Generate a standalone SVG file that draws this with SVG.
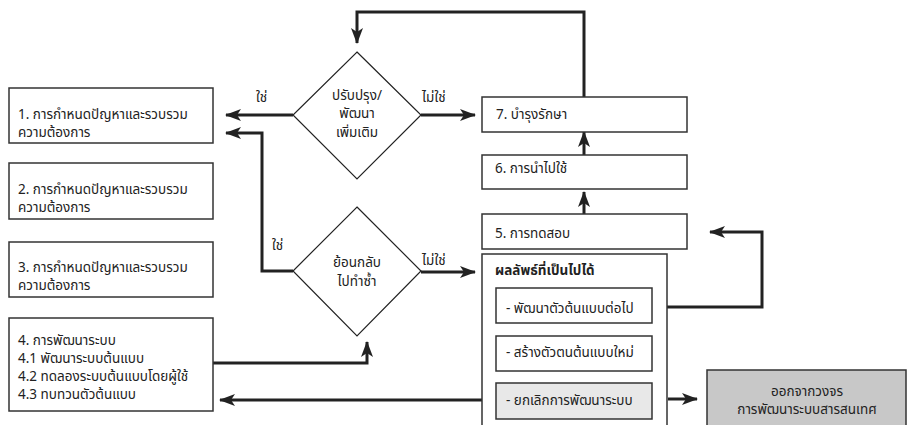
<svg xmlns="http://www.w3.org/2000/svg" width="909" height="425" viewBox="0 0 909 425">
<defs>
<style>
.box{fill:#fff;stroke:#333;stroke-width:1.5}
.dia{fill:#fff;stroke:#222;stroke-width:1.2}
.c{fill:none;stroke:#222;stroke-width:3}
text{font-family:"Noto Sans Thai","Noto Sans","Liberation Sans",sans-serif;font-size:13.5px;fill:#222}
.m{text-anchor:middle}
.b{font-weight:bold}
</style>
<marker id="ah" viewBox="0 0 16 12" refX="15" refY="6" markerWidth="16" markerHeight="12" markerUnits="userSpaceOnUse" orient="auto">
<path d="M0,0 L16,6 L0,12 L4,6 z" fill="#222"/>
</marker>
</defs>
<g id="connectors">
<path class="c" d="M584,97 V12 H357 V43" marker-end="url(#ah)"/>
<path class="c" d="M293,115 H226" marker-end="url(#ah)"/>
<path class="c" d="M421,115 H475" marker-end="url(#ah)"/>
<path class="c" d="M584,155 V132" marker-end="url(#ah)"/>
<path class="c" d="M584,214 V192" marker-end="url(#ah)"/>
<path class="c" d="M293,271 H262 V133 H226" marker-end="url(#ah)"/>
<path class="c" d="M421,272 H475" marker-end="url(#ah)"/>
<path class="c" d="M213,363 H367 V342" marker-end="url(#ah)"/>
<path class="c" d="M652,307 H762 V232 H710" marker-end="url(#ah)"/>
<path class="c" d="M482,400 H220" marker-end="url(#ah)"/>
<path class="c" d="M668,399 H697" marker-end="url(#ah)"/>
<text x="256" y="102">ใช่</text>
<text x="422" y="102">ไม่ใช่</text>
<text x="272" y="250">ใช่</text>
<text x="422" y="265">ไม่ใช่</text>
</g>
<g id="n1"><rect class="box" x="9" y="88" width="204" height="55"/><text x="18" y="119">1. การกำหนดปัญหาและรวบรวม<tspan x="18" dy="18">ความต้องการ</tspan></text></g>
<g id="n2"><rect class="box" x="9" y="163" width="204" height="56"/><text x="18" y="194">2. การกำหนดปัญหาและรวบรวม<tspan x="18" dy="18">ความต้องการ</tspan></text></g>
<g id="n3"><rect class="box" x="9" y="242" width="204" height="55"/><text x="18" y="272">3. การกำหนดปัญหาและรวบรวม<tspan x="18" dy="18">ความต้องการ</tspan></text></g>
<g id="n4"><rect class="box" x="9" y="318" width="204" height="93"/><text x="18" y="345">4. การพัฒนาระบบ<tspan x="18" dy="18">4.1 พัฒนาระบบต้นแบบ</tspan><tspan x="18" dy="18">4.2 ทดลองระบบต้นแบบโดยผู้ใช้</tspan><tspan x="18" dy="18">4.3 ทบทวนตัวต้นแบบ</tspan></text></g>
<g id="d1"><polygon class="dia" points="357,52 421,115 357,179 293,115"/><text class="m" x="357" y="100">ปรับปรุง/<tspan x="357" dy="18">พัฒนา</tspan><tspan x="357" dy="19">เพิ่มเติม</tspan></text></g>
<g id="d2"><polygon class="dia" points="357,207 421,271 357,336 293,271"/><text class="m" x="357" y="267">ย้อนกลับ<tspan x="357" dy="19">ไปทำซ้ำ</tspan></text></g>
<g id="n7"><rect class="box" x="482" y="97" width="205" height="35"/><text x="496" y="119">7. บำรุงรักษา</text></g>
<g id="n6"><rect class="box" x="482" y="155" width="205" height="34"/><text x="495" y="173">6. การนำไปใช้</text></g>
<g id="n5"><rect class="box" x="482" y="214" width="205" height="35"/><text x="495" y="238">5. การทดสอบ</text></g>
<g id="outcomes"><rect class="box" x="482" y="254" width="185" height="180"/><text class="b" x="495" y="275">ผลลัพธ์ที่เป็นไปได้</text></g>
<g id="o1"><rect class="box" x="496" y="288" width="156" height="35"/><text x="506" y="313">- พัฒนาตัวต้นแบบต่อไป</text></g>
<g id="o2"><rect class="box" x="496" y="336" width="156" height="35"/><text x="506" y="357">- สร้างตัวตนต้นแบบใหม่</text></g>
<g id="o3"><rect class="box" x="496" y="383" width="156" height="36" style="fill:#e8e8e8"/><text x="506" y="405">- ยกเลิกการพัฒนาระบบ</text></g>
<g id="exit"><rect x="707" y="370" width="199" height="60" style="fill:#c8c8c8;stroke:#333;stroke-width:1.5"/><text class="m" x="807" y="396">ออกจากวงจร<tspan x="807" dy="18">การพัฒนาระบบสารสนเทศ</tspan></text></g>
</svg>
